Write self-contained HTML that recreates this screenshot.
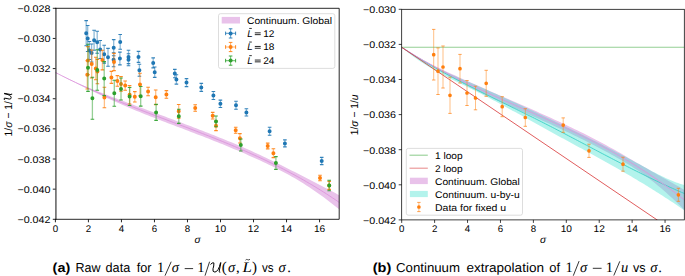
<!DOCTYPE html>
<html><head><meta charset="utf-8"><style>
html,body{margin:0;padding:0;background:#fff;width:685px;height:276px;overflow:hidden}
svg{display:block}
svg{font-family:"Liberation Sans", sans-serif} text{fill:#000;text-rendering:geometricPrecision}
</style></head><body>
<svg width="685" height="276" viewBox="0 0 685 276">
<clipPath id="clipL"><rect x="55.4" y="8.3" width="283.8" height="211.0"/></clipPath>
<clipPath id="clipR"><rect x="401.7" y="9.3" width="282.59999999999997" height="210.6"/></clipPath>
<g clip-path="url(#clipL)">
<path d="M55.40,72.44 L58.29,73.93 L61.17,75.38 L64.06,76.80 L66.94,78.18 L69.83,79.54 L72.71,80.87 L75.60,82.16 L78.48,83.44 L81.37,84.68 L84.25,85.91 L87.14,87.11 L90.02,88.29 L92.91,89.46 L95.79,90.61 L98.68,91.75 L101.56,92.87 L104.45,93.99 L107.33,95.09 L110.22,96.19 L113.10,97.28 L115.99,98.37 L118.87,99.45 L121.76,100.53 L124.64,101.61 L127.53,102.68 L130.41,103.75 L133.30,104.82 L136.18,105.89 L139.07,106.96 L141.95,108.03 L144.84,109.10 L147.72,110.17 L150.61,111.24 L153.49,112.31 L156.38,113.38 L159.26,114.45 L162.15,115.53 L165.03,116.60 L167.92,117.67 L170.80,118.75 L173.69,119.83 L176.57,120.91 L179.46,121.99 L182.34,123.08 L185.23,124.17 L188.11,125.26 L191.00,126.36 L193.88,127.46 L196.77,128.56 L199.65,129.67 L202.54,130.79 L205.42,131.91 L208.31,133.04 L211.19,134.18 L214.08,135.32 L216.96,136.47 L219.85,137.63 L222.73,138.80 L225.62,139.98 L228.50,141.16 L231.39,142.36 L234.28,143.57 L237.16,144.79 L240.05,146.03 L242.93,147.27 L245.82,148.53 L248.70,149.80 L251.59,151.09 L254.47,152.39 L257.36,153.71 L260.24,155.04 L263.13,156.39 L266.01,157.75 L268.90,159.13 L271.78,160.53 L274.67,161.95 L277.55,163.39 L280.44,164.84 L283.32,166.29 L286.21,167.74 L289.09,169.20 L291.98,170.66 L294.86,172.12 L297.75,173.58 L300.63,175.04 L303.52,176.51 L306.40,177.99 L309.29,179.47 L312.17,180.96 L315.06,182.45 L317.94,183.95 L320.83,185.45 L323.71,186.97 L326.60,188.49 L329.48,190.02 L332.37,191.56 L335.25,193.12 L338.14,194.68 L341.02,196.25 L341.02,210.97 L338.14,208.57 L335.25,206.23 L332.37,203.93 L329.48,201.69 L326.60,199.49 L323.71,197.34 L320.83,195.23 L317.94,193.18 L315.06,191.17 L312.17,189.20 L309.29,187.28 L306.40,185.40 L303.52,183.57 L300.63,181.78 L297.75,180.03 L294.86,178.33 L291.98,176.67 L289.09,175.05 L286.21,173.47 L283.32,171.93 L280.44,170.43 L277.55,168.96 L274.67,167.53 L271.78,166.11 L268.90,164.71 L266.01,163.33 L263.13,161.96 L260.24,160.61 L257.36,159.28 L254.47,157.97 L251.59,156.66 L248.70,155.38 L245.82,154.11 L242.93,152.85 L240.05,151.60 L237.16,150.37 L234.28,149.15 L231.39,147.94 L228.50,146.74 L225.62,145.55 L222.73,144.37 L219.85,143.20 L216.96,142.04 L214.08,140.89 L211.19,139.75 L208.31,138.61 L205.42,137.48 L202.54,136.36 L199.65,135.24 L196.77,134.13 L193.88,133.02 L191.00,131.91 L188.11,130.81 L185.23,129.71 L182.34,128.61 L179.46,127.51 L176.57,126.42 L173.69,125.32 L170.80,124.22 L167.92,123.13 L165.03,122.02 L162.15,120.92 L159.26,119.81 L156.38,118.69 L153.49,117.57 L150.61,116.45 L147.72,115.31 L144.84,114.17 L141.95,113.02 L139.07,111.85 L136.18,110.68 L133.30,109.49 L130.41,108.29 L127.53,107.08 L124.64,105.85 L121.76,104.61 L118.87,103.36 L115.99,102.09 L113.10,100.80 L110.22,99.50 L107.33,98.18 L104.45,96.85 L101.56,95.50 L98.68,94.14 L95.79,92.77 L92.91,91.38 L90.02,89.97 L87.14,88.56 L84.25,87.14 L81.37,85.70 L78.48,84.26 L75.60,82.81 L72.71,81.34 L69.83,79.88 L66.94,78.40 L64.06,76.92 L61.17,75.43 L58.29,73.94 L55.40,72.44 Z" fill="#e9c2ea"/>
<path d="M55.40,72.44 L58.29,73.93 L61.17,75.41 L64.06,76.86 L66.94,78.29 L69.83,79.71 L72.71,81.11 L75.60,82.48 L78.48,83.85 L81.37,85.19 L84.25,86.52 L87.14,87.84 L90.02,89.13 L92.91,90.42 L95.79,91.69 L98.68,92.94 L101.56,94.19 L104.45,95.42 L107.33,96.64 L110.22,97.85 L113.10,99.04 L115.99,100.23 L118.87,101.40 L121.76,102.57 L124.64,103.73 L127.53,104.88 L130.41,106.02 L133.30,107.16 L136.18,108.29 L139.07,109.41 L141.95,110.52 L144.84,111.63 L147.72,112.74 L150.61,113.84 L153.49,114.94 L156.38,116.04 L159.26,117.13 L162.15,118.22 L165.03,119.31 L167.92,120.40 L170.80,121.49 L173.69,122.58 L176.57,123.66 L179.46,124.75 L182.34,125.85 L185.23,126.94 L188.11,128.04 L191.00,129.13 L193.88,130.24 L196.77,131.34 L199.65,132.46 L202.54,133.57 L205.42,134.70 L208.31,135.83 L211.19,136.96 L214.08,138.11 L216.96,139.26 L219.85,140.42 L222.73,141.59 L225.62,142.76 L228.50,143.95 L231.39,145.15 L234.28,146.36 L237.16,147.58 L240.05,148.81 L242.93,150.06 L245.82,151.32 L248.70,152.59 L251.59,153.88 L254.47,155.18 L257.36,156.49 L260.24,157.83 L263.13,159.17 L266.01,160.54 L268.90,161.92 L271.78,163.32 L274.67,164.74 L277.55,166.18 L280.44,167.63 L283.32,169.11 L286.21,170.60 L289.09,172.12 L291.98,173.66 L294.86,175.22 L297.75,176.81 L300.63,178.41 L303.52,180.04 L306.40,181.70 L309.29,183.37 L312.17,185.08 L315.06,186.81 L317.94,188.56 L320.83,190.34 L323.71,192.15 L326.60,193.99 L329.48,195.86 L332.37,197.75 L335.25,199.67 L338.14,201.63 L341.02,203.61" fill="none" stroke="#dc95dc" stroke-width="0.9"/>
<path d="M86.20,20.60V45.80M87.70,25.50V51.50M94.10,30.20V50.20M97.20,31.30V53.30M100.20,40.50V58.50M104.20,45.30V63.10M108.00,48.40V66.20M113.70,39.60V55.80M120.20,34.50V49.30M89.40,41.50V59.50M91.60,44.00V62.00M113.60,52.80V66.80M119.90,52.10V64.90M128.50,50.20V63.60M128.50,53.80V65.80M138.50,51.40V62.40M139.40,64.30V76.30M153.20,57.90V67.90M154.70,67.00V77.40M174.80,69.40V77.80M176.40,74.70V84.10M186.50,78.60V86.60M201.30,83.40V91.40M213.40,91.50V99.50M220.40,100.10V107.50M236.00,101.30V109.30M246.40,108.80V116.00M269.60,127.20V135.20M284.90,139.90V146.90M321.70,157.40V164.60" stroke="#1f77b4" stroke-width="1.3" opacity="0.5" fill="none"/><path d="M84.40,20.60H88.00M84.40,45.80H88.00M85.90,25.50H89.50M85.90,51.50H89.50M92.30,30.20H95.90M92.30,50.20H95.90M95.40,31.30H99.00M95.40,53.30H99.00M98.40,40.50H102.00M98.40,58.50H102.00M102.40,45.30H106.00M102.40,63.10H106.00M106.20,48.40H109.80M106.20,66.20H109.80M111.90,39.60H115.50M111.90,55.80H115.50M118.40,34.50H122.00M118.40,49.30H122.00M87.60,41.50H91.20M87.60,59.50H91.20M89.80,44.00H93.40M89.80,62.00H93.40M111.80,52.80H115.40M111.80,66.80H115.40M118.10,52.10H121.70M118.10,64.90H121.70M126.70,50.20H130.30M126.70,63.60H130.30M126.70,53.80H130.30M126.70,65.80H130.30M136.70,51.40H140.30M136.70,62.40H140.30M137.60,64.30H141.20M137.60,76.30H141.20M151.40,57.90H155.00M151.40,67.90H155.00M152.90,67.00H156.50M152.90,77.40H156.50M173.00,69.40H176.60M173.00,77.80H176.60M174.60,74.70H178.20M174.60,84.10H178.20M184.70,78.60H188.30M184.70,86.60H188.30M199.50,83.40H203.10M199.50,91.40H203.10M211.60,91.50H215.20M211.60,99.50H215.20M218.60,100.10H222.20M218.60,107.50H222.20M234.20,101.30H237.80M234.20,109.30H237.80M244.60,108.80H248.20M244.60,116.00H248.20M267.80,127.20H271.40M267.80,135.20H271.40M283.10,139.90H286.70M283.10,146.90H286.70M319.90,157.40H323.50M319.90,164.60H323.50" stroke="#1f77b4" stroke-width="1.1" opacity="0.9" fill="none"/><path d="M86.20,33.20m-2.0,0a2.0,2.0 0 1,0 4.0,0a2.0,2.0 0 1,0 -4.0,0M87.70,38.50m-2.0,0a2.0,2.0 0 1,0 4.0,0a2.0,2.0 0 1,0 -4.0,0M94.10,40.20m-2.0,0a2.0,2.0 0 1,0 4.0,0a2.0,2.0 0 1,0 -4.0,0M97.20,42.30m-2.0,0a2.0,2.0 0 1,0 4.0,0a2.0,2.0 0 1,0 -4.0,0M100.20,49.50m-2.0,0a2.0,2.0 0 1,0 4.0,0a2.0,2.0 0 1,0 -4.0,0M104.20,54.20m-2.0,0a2.0,2.0 0 1,0 4.0,0a2.0,2.0 0 1,0 -4.0,0M108.00,57.30m-2.0,0a2.0,2.0 0 1,0 4.0,0a2.0,2.0 0 1,0 -4.0,0M113.70,47.70m-2.0,0a2.0,2.0 0 1,0 4.0,0a2.0,2.0 0 1,0 -4.0,0M120.20,41.90m-2.0,0a2.0,2.0 0 1,0 4.0,0a2.0,2.0 0 1,0 -4.0,0M89.40,50.50m-2.0,0a2.0,2.0 0 1,0 4.0,0a2.0,2.0 0 1,0 -4.0,0M91.60,53.00m-2.0,0a2.0,2.0 0 1,0 4.0,0a2.0,2.0 0 1,0 -4.0,0M113.60,59.80m-2.0,0a2.0,2.0 0 1,0 4.0,0a2.0,2.0 0 1,0 -4.0,0M119.90,58.50m-2.0,0a2.0,2.0 0 1,0 4.0,0a2.0,2.0 0 1,0 -4.0,0M128.50,56.90m-2.0,0a2.0,2.0 0 1,0 4.0,0a2.0,2.0 0 1,0 -4.0,0M128.50,59.80m-2.0,0a2.0,2.0 0 1,0 4.0,0a2.0,2.0 0 1,0 -4.0,0M138.50,56.90m-2.0,0a2.0,2.0 0 1,0 4.0,0a2.0,2.0 0 1,0 -4.0,0M139.40,70.30m-2.0,0a2.0,2.0 0 1,0 4.0,0a2.0,2.0 0 1,0 -4.0,0M153.20,62.90m-2.0,0a2.0,2.0 0 1,0 4.0,0a2.0,2.0 0 1,0 -4.0,0M154.70,72.20m-2.0,0a2.0,2.0 0 1,0 4.0,0a2.0,2.0 0 1,0 -4.0,0M174.80,73.60m-2.0,0a2.0,2.0 0 1,0 4.0,0a2.0,2.0 0 1,0 -4.0,0M176.40,79.40m-2.0,0a2.0,2.0 0 1,0 4.0,0a2.0,2.0 0 1,0 -4.0,0M186.50,82.60m-2.0,0a2.0,2.0 0 1,0 4.0,0a2.0,2.0 0 1,0 -4.0,0M201.30,87.40m-2.0,0a2.0,2.0 0 1,0 4.0,0a2.0,2.0 0 1,0 -4.0,0M213.40,95.50m-2.0,0a2.0,2.0 0 1,0 4.0,0a2.0,2.0 0 1,0 -4.0,0M220.40,103.80m-2.0,0a2.0,2.0 0 1,0 4.0,0a2.0,2.0 0 1,0 -4.0,0M236.00,105.30m-2.0,0a2.0,2.0 0 1,0 4.0,0a2.0,2.0 0 1,0 -4.0,0M246.40,112.40m-2.0,0a2.0,2.0 0 1,0 4.0,0a2.0,2.0 0 1,0 -4.0,0M269.60,131.20m-2.0,0a2.0,2.0 0 1,0 4.0,0a2.0,2.0 0 1,0 -4.0,0M284.90,143.40m-2.0,0a2.0,2.0 0 1,0 4.0,0a2.0,2.0 0 1,0 -4.0,0M321.70,161.00m-2.0,0a2.0,2.0 0 1,0 4.0,0a2.0,2.0 0 1,0 -4.0,0" fill="#1f77b4" opacity="1.0"/>
<path d="M87.90,46.60V74.60M91.70,50.00V78.00M87.30,60.60V89.00M95.80,57.20V79.80M97.40,59.40V83.80M102.40,50.30V69.90M114.00,53.40V70.60M111.40,71.40V83.40M117.40,75.60V86.20M121.00,76.50V91.30M125.20,81.00V90.20M129.60,85.60V104.00M134.80,91.60V102.00M104.40,87.30V107.70M140.00,73.20V95.80M148.10,87.30V95.70M155.70,90.00V104.60M166.40,90.60V98.20M178.70,104.50V118.10M195.20,104.70V111.30M212.70,112.40V119.00M216.00,121.00V130.60M235.70,127.20V133.20M239.90,133.60V143.00M267.70,143.10V148.90M273.40,148.80V157.60M320.00,175.20V180.80M329.20,181.40V189.40" stroke="#ff7f0e" stroke-width="1.3" opacity="0.5" fill="none"/><path d="M86.10,46.60H89.70M86.10,74.60H89.70M89.90,50.00H93.50M89.90,78.00H93.50M85.50,60.60H89.10M85.50,89.00H89.10M94.00,57.20H97.60M94.00,79.80H97.60M95.60,59.40H99.20M95.60,83.80H99.20M100.60,50.30H104.20M100.60,69.90H104.20M112.20,53.40H115.80M112.20,70.60H115.80M109.60,71.40H113.20M109.60,83.40H113.20M115.60,75.60H119.20M115.60,86.20H119.20M119.20,76.50H122.80M119.20,91.30H122.80M123.40,81.00H127.00M123.40,90.20H127.00M127.80,85.60H131.40M127.80,104.00H131.40M133.00,91.60H136.60M133.00,102.00H136.60M102.60,87.30H106.20M102.60,107.70H106.20M138.20,73.20H141.80M138.20,95.80H141.80M146.30,87.30H149.90M146.30,95.70H149.90M153.90,90.00H157.50M153.90,104.60H157.50M164.60,90.60H168.20M164.60,98.20H168.20M176.90,104.50H180.50M176.90,118.10H180.50M193.40,104.70H197.00M193.40,111.30H197.00M210.90,112.40H214.50M210.90,119.00H214.50M214.20,121.00H217.80M214.20,130.60H217.80M233.90,127.20H237.50M233.90,133.20H237.50M238.10,133.60H241.70M238.10,143.00H241.70M265.90,143.10H269.50M265.90,148.90H269.50M271.60,148.80H275.20M271.60,157.60H275.20M318.20,175.20H321.80M318.20,180.80H321.80M327.40,181.40H331.00M327.40,189.40H331.00" stroke="#ff7f0e" stroke-width="1.1" opacity="0.9" fill="none"/><path d="M87.90,60.60m-2.0,0a2.0,2.0 0 1,0 4.0,0a2.0,2.0 0 1,0 -4.0,0M91.70,64.00m-2.0,0a2.0,2.0 0 1,0 4.0,0a2.0,2.0 0 1,0 -4.0,0M87.30,74.80m-2.0,0a2.0,2.0 0 1,0 4.0,0a2.0,2.0 0 1,0 -4.0,0M95.80,68.50m-2.0,0a2.0,2.0 0 1,0 4.0,0a2.0,2.0 0 1,0 -4.0,0M97.40,71.60m-2.0,0a2.0,2.0 0 1,0 4.0,0a2.0,2.0 0 1,0 -4.0,0M102.40,60.10m-2.0,0a2.0,2.0 0 1,0 4.0,0a2.0,2.0 0 1,0 -4.0,0M114.00,62.00m-2.0,0a2.0,2.0 0 1,0 4.0,0a2.0,2.0 0 1,0 -4.0,0M111.40,77.40m-2.0,0a2.0,2.0 0 1,0 4.0,0a2.0,2.0 0 1,0 -4.0,0M117.40,80.90m-2.0,0a2.0,2.0 0 1,0 4.0,0a2.0,2.0 0 1,0 -4.0,0M121.00,83.90m-2.0,0a2.0,2.0 0 1,0 4.0,0a2.0,2.0 0 1,0 -4.0,0M125.20,85.60m-2.0,0a2.0,2.0 0 1,0 4.0,0a2.0,2.0 0 1,0 -4.0,0M129.60,94.80m-2.0,0a2.0,2.0 0 1,0 4.0,0a2.0,2.0 0 1,0 -4.0,0M134.80,96.80m-2.0,0a2.0,2.0 0 1,0 4.0,0a2.0,2.0 0 1,0 -4.0,0M104.40,97.50m-2.0,0a2.0,2.0 0 1,0 4.0,0a2.0,2.0 0 1,0 -4.0,0M140.00,84.50m-2.0,0a2.0,2.0 0 1,0 4.0,0a2.0,2.0 0 1,0 -4.0,0M148.10,91.50m-2.0,0a2.0,2.0 0 1,0 4.0,0a2.0,2.0 0 1,0 -4.0,0M155.70,97.30m-2.0,0a2.0,2.0 0 1,0 4.0,0a2.0,2.0 0 1,0 -4.0,0M166.40,94.40m-2.0,0a2.0,2.0 0 1,0 4.0,0a2.0,2.0 0 1,0 -4.0,0M178.70,111.30m-2.0,0a2.0,2.0 0 1,0 4.0,0a2.0,2.0 0 1,0 -4.0,0M195.20,108.00m-2.0,0a2.0,2.0 0 1,0 4.0,0a2.0,2.0 0 1,0 -4.0,0M212.70,115.70m-2.0,0a2.0,2.0 0 1,0 4.0,0a2.0,2.0 0 1,0 -4.0,0M216.00,125.80m-2.0,0a2.0,2.0 0 1,0 4.0,0a2.0,2.0 0 1,0 -4.0,0M235.70,130.20m-2.0,0a2.0,2.0 0 1,0 4.0,0a2.0,2.0 0 1,0 -4.0,0M239.90,138.30m-2.0,0a2.0,2.0 0 1,0 4.0,0a2.0,2.0 0 1,0 -4.0,0M267.70,146.00m-2.0,0a2.0,2.0 0 1,0 4.0,0a2.0,2.0 0 1,0 -4.0,0M273.40,153.20m-2.0,0a2.0,2.0 0 1,0 4.0,0a2.0,2.0 0 1,0 -4.0,0M320.00,178.00m-2.0,0a2.0,2.0 0 1,0 4.0,0a2.0,2.0 0 1,0 -4.0,0M329.20,185.40m-2.0,0a2.0,2.0 0 1,0 4.0,0a2.0,2.0 0 1,0 -4.0,0" fill="#ff7f0e" opacity="1.0"/>
<path d="M88.00,44.20V91.40M97.30,49.70V90.30M104.20,61.60V95.60M92.40,77.30V119.30M114.30,80.20V106.20M121.00,78.00V100.00M129.60,87.50V105.50M140.70,86.50V106.10M156.10,104.40V120.40M178.80,109.20V123.40M216.00,116.00V126.80M240.80,139.00V151.00M275.90,156.60V169.40M329.20,180.20V190.80" stroke="#2ca02c" stroke-width="1.3" opacity="0.5" fill="none"/><path d="M86.20,44.20H89.80M86.20,91.40H89.80M95.50,49.70H99.10M95.50,90.30H99.10M102.40,61.60H106.00M102.40,95.60H106.00M90.60,77.30H94.20M90.60,119.30H94.20M112.50,80.20H116.10M112.50,106.20H116.10M119.20,78.00H122.80M119.20,100.00H122.80M127.80,87.50H131.40M127.80,105.50H131.40M138.90,86.50H142.50M138.90,106.10H142.50M154.30,104.40H157.90M154.30,120.40H157.90M177.00,109.20H180.60M177.00,123.40H180.60M214.20,116.00H217.80M214.20,126.80H217.80M239.00,139.00H242.60M239.00,151.00H242.60M274.10,156.60H277.70M274.10,169.40H277.70M327.40,180.20H331.00M327.40,190.80H331.00" stroke="#2ca02c" stroke-width="1.1" opacity="0.9" fill="none"/><path d="M88.00,67.80m-2.0,0a2.0,2.0 0 1,0 4.0,0a2.0,2.0 0 1,0 -4.0,0M97.30,70.00m-2.0,0a2.0,2.0 0 1,0 4.0,0a2.0,2.0 0 1,0 -4.0,0M104.20,78.60m-2.0,0a2.0,2.0 0 1,0 4.0,0a2.0,2.0 0 1,0 -4.0,0M92.40,98.30m-2.0,0a2.0,2.0 0 1,0 4.0,0a2.0,2.0 0 1,0 -4.0,0M114.30,93.20m-2.0,0a2.0,2.0 0 1,0 4.0,0a2.0,2.0 0 1,0 -4.0,0M121.00,89.00m-2.0,0a2.0,2.0 0 1,0 4.0,0a2.0,2.0 0 1,0 -4.0,0M129.60,96.50m-2.0,0a2.0,2.0 0 1,0 4.0,0a2.0,2.0 0 1,0 -4.0,0M140.70,96.30m-2.0,0a2.0,2.0 0 1,0 4.0,0a2.0,2.0 0 1,0 -4.0,0M156.10,112.40m-2.0,0a2.0,2.0 0 1,0 4.0,0a2.0,2.0 0 1,0 -4.0,0M178.80,116.30m-2.0,0a2.0,2.0 0 1,0 4.0,0a2.0,2.0 0 1,0 -4.0,0M216.00,121.40m-2.0,0a2.0,2.0 0 1,0 4.0,0a2.0,2.0 0 1,0 -4.0,0M240.80,145.00m-2.0,0a2.0,2.0 0 1,0 4.0,0a2.0,2.0 0 1,0 -4.0,0M275.90,163.00m-2.0,0a2.0,2.0 0 1,0 4.0,0a2.0,2.0 0 1,0 -4.0,0M329.20,185.50m-2.0,0a2.0,2.0 0 1,0 4.0,0a2.0,2.0 0 1,0 -4.0,0" fill="#2ca02c" opacity="1.0"/>
</g>
<path d="M55.0,8.3H339.2V219.3H55.0" fill="none" stroke="#000" stroke-width="0.85"/>
<path d="M55.95,7.9V219.70000000000002" fill="none" stroke="#000" stroke-width="0.95"/>
<line x1="52.8" y1="8.30" x2="55.5" y2="8.30" stroke="#000" stroke-width="0.85"/>
<text x="50.40" y="11.85" font-size="9.7" text-anchor="end" textLength="33.0" lengthAdjust="spacingAndGlyphs">−0.028</text>
<line x1="52.8" y1="38.44" x2="55.5" y2="38.44" stroke="#000" stroke-width="0.85"/>
<text x="50.40" y="41.99" font-size="9.7" text-anchor="end" textLength="33.0" lengthAdjust="spacingAndGlyphs">−0.030</text>
<line x1="52.8" y1="68.59" x2="55.5" y2="68.59" stroke="#000" stroke-width="0.85"/>
<text x="50.40" y="72.14" font-size="9.7" text-anchor="end" textLength="33.0" lengthAdjust="spacingAndGlyphs">−0.032</text>
<line x1="52.8" y1="98.73" x2="55.5" y2="98.73" stroke="#000" stroke-width="0.85"/>
<text x="50.40" y="102.28" font-size="9.7" text-anchor="end" textLength="33.0" lengthAdjust="spacingAndGlyphs">−0.034</text>
<line x1="52.8" y1="128.87" x2="55.5" y2="128.87" stroke="#000" stroke-width="0.85"/>
<text x="50.40" y="132.42" font-size="9.7" text-anchor="end" textLength="33.0" lengthAdjust="spacingAndGlyphs">−0.036</text>
<line x1="52.8" y1="159.01" x2="55.5" y2="159.01" stroke="#000" stroke-width="0.85"/>
<text x="50.40" y="162.56" font-size="9.7" text-anchor="end" textLength="33.0" lengthAdjust="spacingAndGlyphs">−0.038</text>
<line x1="52.8" y1="189.16" x2="55.5" y2="189.16" stroke="#000" stroke-width="0.85"/>
<text x="50.40" y="192.71" font-size="9.7" text-anchor="end" textLength="33.0" lengthAdjust="spacingAndGlyphs">−0.040</text>
<line x1="52.8" y1="219.30" x2="55.5" y2="219.30" stroke="#000" stroke-width="0.85"/>
<text x="50.40" y="222.85" font-size="9.7" text-anchor="end" textLength="33.0" lengthAdjust="spacingAndGlyphs">−0.042</text>
<line x1="55.40" y1="219.3" x2="55.40" y2="222.3" stroke="#000" stroke-width="0.85"/>
<text x="55.40" y="232.00" font-size="9.7" text-anchor="middle">0</text>
<line x1="88.42" y1="219.3" x2="88.42" y2="222.3" stroke="#000" stroke-width="0.85"/>
<text x="88.42" y="232.00" font-size="9.7" text-anchor="middle">2</text>
<line x1="121.44" y1="219.3" x2="121.44" y2="222.3" stroke="#000" stroke-width="0.85"/>
<text x="121.44" y="232.00" font-size="9.7" text-anchor="middle">4</text>
<line x1="154.46" y1="219.3" x2="154.46" y2="222.3" stroke="#000" stroke-width="0.85"/>
<text x="154.46" y="232.00" font-size="9.7" text-anchor="middle">6</text>
<line x1="187.48" y1="219.3" x2="187.48" y2="222.3" stroke="#000" stroke-width="0.85"/>
<text x="187.48" y="232.00" font-size="9.7" text-anchor="middle">8</text>
<line x1="220.50" y1="219.3" x2="220.50" y2="222.3" stroke="#000" stroke-width="0.85"/>
<text x="220.50" y="232.00" font-size="9.7" text-anchor="middle" textLength="11.3" lengthAdjust="spacingAndGlyphs">10</text>
<line x1="253.52" y1="219.3" x2="253.52" y2="222.3" stroke="#000" stroke-width="0.85"/>
<text x="253.52" y="232.00" font-size="9.7" text-anchor="middle" textLength="11.3" lengthAdjust="spacingAndGlyphs">12</text>
<line x1="286.54" y1="219.3" x2="286.54" y2="222.3" stroke="#000" stroke-width="0.85"/>
<text x="286.54" y="232.00" font-size="9.7" text-anchor="middle" textLength="11.3" lengthAdjust="spacingAndGlyphs">14</text>
<line x1="319.56" y1="219.3" x2="319.56" y2="222.3" stroke="#000" stroke-width="0.85"/>
<text x="319.56" y="232.00" font-size="9.7" text-anchor="middle" textLength="11.3" lengthAdjust="spacingAndGlyphs">16</text>
<text x="197.60" y="242.70" font-size="10.2" text-anchor="middle" font-style="italic">σ</text>
<g transform="translate(11.7,136.4) rotate(-90) scale(1.04)"><text x="0" y="0" font-size="10.3" textLength="34" lengthAdjust="spacingAndGlyphs">1/<tspan font-style="italic">σ</tspan> − 1/</text><path d="M34.9,-6.6 q0.9,-1.2 1.9,-0.4 q-0.3,2.8 -0.9,4.6 q-0.4,1.9 1.6,1.9 q2.6,-0.4 3.6,-6.8 M41.4,-7.2 l-1.2,6.6 q-0.1,1.0 0.9,0.6" fill="none" stroke="#000" stroke-width="0.95"/></g>
<rect x="218.5" y="13.7" width="116.3" height="54.7" rx="2" fill="#fff" fill-opacity="0.8" stroke="#d4d4d4" stroke-width="0.8"/>
<rect x="221.7" y="16.9" width="18.3" height="6.6" fill="#e9c2ea"/>
<text x="247.00" y="23.50" font-size="9.7" textLength="85.0" lengthAdjust="spacingAndGlyphs">Continuum. Global</text>
<path d="M225.6,33.4H235.6M230.6,28.799999999999997V38.0" stroke="#1f77b4" stroke-width="1.1" opacity="0.6"/>
<path d="M225.6,31.599999999999998V35.199999999999996M235.6,31.599999999999998V35.199999999999996M228.79999999999998,28.799999999999997H232.4M228.79999999999998,38.0H232.4" stroke="#1f77b4" stroke-width="1" opacity="0.9"/>
<circle cx="230.6" cy="33.4" r="2" fill="#1f77b4"/>
<text x="247.20" y="36.85" font-size="9.7" font-style="italic">L</text>
<path d="M254.8,32.85H260.7M254.8,34.65H260.7" stroke="#000" stroke-width="0.85"/>
<text x="263.20" y="36.85" font-size="9.7" textLength="11.2" lengthAdjust="spacingAndGlyphs">12</text>
<path d="M249.2,28.45h2.6" stroke="#000" stroke-width="0.8"/>
<path d="M225.6,47.0H235.6M230.6,42.4V51.6" stroke="#ff7f0e" stroke-width="1.1" opacity="0.6"/>
<path d="M225.6,45.2V48.8M235.6,45.2V48.8M228.79999999999998,42.4H232.4M228.79999999999998,51.6H232.4" stroke="#ff7f0e" stroke-width="1" opacity="0.9"/>
<circle cx="230.6" cy="47.0" r="2" fill="#ff7f0e"/>
<text x="247.20" y="50.45" font-size="9.7" font-style="italic">L</text>
<path d="M254.8,46.45H260.7M254.8,48.25H260.7" stroke="#000" stroke-width="0.85"/>
<text x="263.20" y="50.45" font-size="9.7" textLength="11.2" lengthAdjust="spacingAndGlyphs">18</text>
<path d="M249.2,42.05h2.6" stroke="#000" stroke-width="0.8"/>
<path d="M225.6,60.599999999999994H235.6M230.6,55.99999999999999V65.19999999999999" stroke="#2ca02c" stroke-width="1.1" opacity="0.6"/>
<path d="M225.6,58.8V62.39999999999999M235.6,58.8V62.39999999999999M228.79999999999998,55.99999999999999H232.4M228.79999999999998,65.19999999999999H232.4" stroke="#2ca02c" stroke-width="1" opacity="0.9"/>
<circle cx="230.6" cy="60.599999999999994" r="2" fill="#2ca02c"/>
<text x="247.20" y="64.05" font-size="9.7" font-style="italic">L</text>
<path d="M254.8,60.05H260.7M254.8,61.85H260.7" stroke="#000" stroke-width="0.85"/>
<text x="263.20" y="64.05" font-size="9.7" textLength="11.2" lengthAdjust="spacingAndGlyphs">24</text>
<path d="M249.2,55.65h2.6" stroke="#000" stroke-width="0.8"/>
<g clip-path="url(#clipR)">
<path d="M401.70,47.23 L404.58,49.07 L407.45,50.86 L410.33,52.61 L413.21,54.32 L416.08,55.98 L418.96,57.61 L421.83,59.19 L424.71,60.74 L427.59,62.26 L430.46,63.74 L433.34,65.20 L436.22,66.63 L439.09,68.04 L441.97,69.42 L444.85,70.79 L447.72,72.14 L450.60,73.47 L453.47,74.79 L456.35,76.10 L459.23,77.41 L462.10,78.70 L464.98,79.98 L467.86,81.26 L470.73,82.54 L473.61,83.81 L476.48,85.08 L479.36,86.34 L482.24,87.61 L485.11,88.87 L487.99,90.13 L490.87,91.39 L493.74,92.65 L496.62,93.90 L499.50,95.16 L502.37,96.42 L505.25,97.68 L508.12,98.93 L511.00,100.19 L513.88,101.45 L516.75,102.71 L519.63,103.98 L522.51,105.24 L525.38,106.51 L528.26,107.78 L531.14,109.05 L534.01,110.33 L536.89,111.61 L539.76,112.90 L542.64,114.19 L545.52,115.48 L548.39,116.79 L551.27,118.10 L554.15,119.41 L557.02,120.74 L559.90,122.07 L562.78,123.41 L565.65,124.77 L568.53,126.13 L571.40,127.50 L574.28,128.89 L577.16,130.29 L580.03,131.70 L582.91,133.12 L585.79,134.56 L588.66,136.01 L591.54,137.47 L594.42,138.96 L597.29,140.46 L600.17,141.97 L603.04,143.51 L605.92,145.06 L608.80,146.63 L611.67,148.22 L614.55,149.83 L617.43,151.46 L620.30,153.11 L623.18,154.78 L626.05,156.47 L628.93,158.15 L631.81,159.83 L634.68,161.49 L637.56,163.15 L640.44,164.81 L643.31,166.46 L646.19,168.10 L649.07,169.75 L651.94,171.39 L654.82,173.02 L657.69,174.66 L660.57,176.29 L663.45,177.92 L666.32,179.55 L669.20,181.19 L672.08,182.82 L674.95,184.46 L677.83,186.09 L680.71,187.74 L683.58,189.38 L686.46,191.03 L686.46,212.22 L683.58,209.25 L680.71,206.35 L677.83,203.51 L674.95,200.74 L672.08,198.03 L669.20,195.39 L666.32,192.81 L663.45,190.29 L660.57,187.83 L657.69,185.44 L654.82,183.10 L651.94,180.83 L649.07,178.62 L646.19,176.46 L643.31,174.37 L640.44,172.33 L637.56,170.35 L634.68,168.42 L631.81,166.55 L628.93,164.74 L626.05,162.98 L623.18,161.28 L620.30,159.60 L617.43,157.95 L614.55,156.32 L611.67,154.71 L608.80,153.12 L605.92,151.55 L603.04,150.00 L600.17,148.47 L597.29,146.95 L594.42,145.45 L591.54,143.97 L588.66,142.50 L585.79,141.05 L582.91,139.61 L580.03,138.19 L577.16,136.78 L574.28,135.38 L571.40,134.00 L568.53,132.62 L565.65,131.26 L562.78,129.91 L559.90,128.56 L557.02,127.23 L554.15,125.90 L551.27,124.58 L548.39,123.27 L545.52,121.96 L542.64,120.66 L539.76,119.37 L536.89,118.08 L534.01,116.79 L531.14,115.50 L528.26,114.22 L525.38,112.94 L522.51,111.66 L519.63,110.37 L516.75,109.09 L513.88,107.80 L511.00,106.51 L508.12,105.21 L505.25,103.91 L502.37,102.61 L499.50,101.29 L496.62,99.97 L493.74,98.63 L490.87,97.29 L487.99,95.93 L485.11,94.56 L482.24,93.18 L479.36,91.78 L476.48,90.37 L473.61,88.94 L470.73,87.49 L467.86,86.02 L464.98,84.53 L462.10,83.03 L459.23,81.50 L456.35,79.96 L453.47,78.39 L450.60,76.81 L447.72,75.20 L444.85,73.58 L441.97,71.93 L439.09,70.27 L436.22,68.59 L433.34,66.89 L430.46,65.18 L427.59,63.44 L424.71,61.70 L421.83,59.94 L418.96,58.16 L416.08,56.38 L413.21,54.57 L410.33,52.76 L407.45,50.93 L404.58,49.08 L401.70,47.23 Z" fill="#e9c2ea"/>
<path d="M401.70,47.30 L403.49,48.56 L405.29,49.79 L407.08,50.99 L408.88,52.17 L410.67,53.32 L412.47,54.45 L414.26,55.55 L416.05,56.63 L417.85,57.69 L419.64,58.73 L421.44,59.75 L423.23,60.75 L425.03,61.73 L426.82,62.69 L428.62,63.64 L430.41,64.57 L432.20,65.48 L434.00,66.38 L435.79,67.27 L437.59,68.14 L439.38,69.00 L441.18,69.85 L442.97,70.69 L444.76,71.51 L446.56,72.33 L448.35,73.14 L450.15,73.95 L451.94,74.74 L453.74,75.53 L455.53,76.32 L457.32,77.10 L459.12,77.88 L460.91,78.65 L462.71,79.43 L464.50,80.20 L466.30,80.97 L468.09,81.74 L469.88,82.52 L471.68,83.29 L473.47,84.07 L475.27,84.85 L477.06,85.63 L478.86,86.42 L480.65,87.20 L482.45,87.99 L484.24,88.78 L486.03,89.57 L487.83,90.37 L489.62,91.17 L491.42,91.96 L493.21,92.76 L495.01,93.57 L496.80,94.37 L498.59,95.18 L500.39,95.99 L502.18,96.80 L503.98,97.61 L505.77,98.42 L507.57,99.24 L509.36,100.06 L511.15,100.88 L512.95,101.70 L514.74,102.52 L516.54,103.35 L518.33,104.17 L520.13,105.00 L521.92,105.83 L523.72,106.66 L525.51,107.50 L527.30,108.34 L529.10,109.17 L530.89,110.01 L532.69,110.85 L534.48,111.70 L536.28,112.54 L538.07,113.39 L539.86,114.24 L541.66,115.08 L543.45,115.94 L545.25,116.79 L547.04,117.64 L548.84,118.50 L550.63,119.36 L552.42,120.22 L554.22,121.08 L556.01,121.94 L557.81,122.80 L559.60,123.67 L561.40,124.54 L563.19,125.40 L564.98,126.27 L566.78,127.15 L568.57,128.02 L570.37,128.89 L572.16,129.77 L573.96,130.65 L575.75,131.53 L577.55,132.41 L579.34,133.30 L581.13,134.18 L582.93,135.07 L584.72,135.96 L586.52,136.86 L588.31,137.75 L590.11,138.65 L591.90,139.55 L593.69,140.45 L595.49,141.35 L597.28,142.26 L599.08,143.17 L600.87,144.08 L602.67,144.99 L604.46,145.91 L606.25,146.82 L608.05,147.75 L609.84,148.67 L611.64,149.60 L613.43,150.53 L615.23,151.46 L617.02,152.39 L618.82,153.33 L620.61,154.27 L622.40,155.21 L624.20,156.16 L625.99,157.11 L627.79,158.06 L629.58,159.02 L631.38,159.98 L633.17,160.94 L634.96,161.91 L636.76,162.88 L638.55,163.85 L640.35,164.82 L642.14,165.80 L643.94,166.78 L645.73,167.76 L647.52,168.74 L649.32,169.71 L651.11,170.68 L652.91,171.63 L654.70,172.58 L656.50,173.51 L658.29,174.43 L660.08,175.33 L661.88,176.22 L663.67,177.08 L665.47,177.93 L667.26,178.75 L669.06,179.54 L670.85,180.30 L672.65,181.04 L674.44,181.74 L676.23,182.41 L678.03,183.05 L679.82,183.64 L681.62,184.20 L683.41,184.72 L685.21,185.19 L687.00,185.62 L687.00,212.17 L685.21,210.91 L683.41,209.66 L681.62,208.43 L679.82,207.20 L678.03,205.98 L676.23,204.76 L674.44,203.56 L672.65,202.36 L670.85,201.17 L669.06,199.98 L667.26,198.81 L665.47,197.64 L663.67,196.48 L661.88,195.32 L660.08,194.17 L658.29,193.03 L656.50,191.90 L654.70,190.77 L652.91,189.65 L651.11,188.53 L649.32,187.42 L647.52,186.32 L645.73,185.22 L643.94,184.12 L642.14,183.04 L640.35,181.95 L638.55,180.88 L636.76,179.80 L634.96,178.74 L633.17,177.67 L631.38,176.62 L629.58,175.56 L627.79,174.51 L625.99,173.47 L624.20,172.43 L622.40,171.39 L620.61,170.36 L618.82,169.33 L617.02,168.31 L615.23,167.29 L613.43,166.27 L611.64,165.25 L609.84,164.24 L608.05,163.23 L606.25,162.23 L604.46,161.22 L602.67,160.22 L600.87,159.22 L599.08,158.23 L597.28,157.24 L595.49,156.24 L593.69,155.25 L591.90,154.27 L590.11,153.28 L588.31,152.30 L586.52,151.31 L584.72,150.33 L582.93,149.35 L581.13,148.37 L579.34,147.39 L577.55,146.42 L575.75,145.44 L573.96,144.46 L572.16,143.49 L570.37,142.51 L568.57,141.54 L566.78,140.56 L564.98,139.58 L563.19,138.61 L561.40,137.63 L559.60,136.65 L557.81,135.68 L556.01,134.70 L554.22,133.72 L552.42,132.74 L550.63,131.76 L548.84,130.78 L547.04,129.79 L545.25,128.81 L543.45,127.82 L541.66,126.83 L539.86,125.84 L538.07,124.85 L536.28,123.85 L534.48,122.86 L532.69,121.86 L530.89,120.86 L529.10,119.86 L527.30,118.86 L525.51,117.86 L523.72,116.86 L521.92,115.86 L520.13,114.86 L518.33,113.87 L516.54,112.87 L514.74,111.87 L512.95,110.88 L511.15,109.89 L509.36,108.90 L507.57,107.91 L505.77,106.93 L503.98,105.95 L502.18,104.97 L500.39,103.99 L498.59,103.02 L496.80,102.06 L495.01,101.09 L493.21,100.13 L491.42,99.18 L489.62,98.23 L487.83,97.29 L486.03,96.35 L484.24,95.42 L482.45,94.50 L480.65,93.58 L478.86,92.67 L477.06,91.76 L475.27,90.86 L473.47,89.97 L471.68,89.09 L469.88,88.21 L468.09,87.33 L466.30,86.45 L464.50,85.58 L462.71,84.71 L460.91,83.83 L459.12,82.96 L457.32,82.08 L455.53,81.20 L453.74,80.31 L451.94,79.41 L450.15,78.51 L448.35,77.60 L446.56,76.68 L444.76,75.75 L442.97,74.81 L441.18,73.85 L439.38,72.88 L437.59,71.90 L435.79,70.90 L434.00,69.88 L432.20,68.84 L430.41,67.78 L428.62,66.71 L426.82,65.61 L425.03,64.48 L423.23,63.34 L421.44,62.17 L419.64,60.97 L417.85,59.74 L416.05,58.49 L414.26,57.21 L412.47,55.89 L410.67,54.55 L408.88,53.17 L407.08,51.76 L405.29,50.31 L403.49,48.82 L401.70,47.30 Z" fill="#40e0d0" fill-opacity="0.4"/>
<path d="M401.70,47.30 L403.49,48.48 L405.29,49.65 L407.08,50.80 L408.88,51.95 L410.67,53.09 L412.47,54.22 L414.26,55.34 L416.05,56.45 L417.85,57.55 L419.64,58.64 L421.44,59.72 L423.23,60.80 L425.03,61.86 L426.82,62.92 L428.62,63.97 L430.41,65.01 L432.20,66.05 L434.00,67.08 L435.79,68.10 L437.59,69.11 L439.38,70.12 L441.18,71.12 L442.97,72.11 L444.76,73.10 L446.56,74.08 L448.35,75.05 L450.15,76.02 L451.94,76.99 L453.74,77.94 L455.53,78.90 L457.32,79.84 L459.12,80.79 L460.91,81.72 L462.71,82.66 L464.50,83.59 L466.30,84.51 L468.09,85.43 L469.88,86.35 L471.68,87.26 L473.47,88.17 L475.27,89.08 L477.06,89.98 L478.86,90.88 L480.65,91.78 L482.45,92.67 L484.24,93.57 L486.03,94.46 L487.83,95.34 L489.62,96.23 L491.42,97.12 L493.21,98.00 L495.01,98.88 L496.80,99.76 L498.59,100.64 L500.39,101.52 L502.18,102.39 L503.98,103.27 L505.77,104.15 L507.57,105.03 L509.36,105.90 L511.15,106.78 L512.95,107.66 L514.74,108.53 L516.54,109.41 L518.33,110.29 L520.13,111.17 L521.92,112.05 L523.72,112.94 L525.51,113.82 L527.30,114.71 L529.10,115.60 L530.89,116.49 L532.69,117.38 L534.48,118.28 L536.28,119.18 L538.07,120.08 L539.86,120.98 L541.66,121.89 L543.45,122.80 L545.25,123.71 L547.04,124.63 L548.84,125.55 L550.63,126.47 L552.42,127.39 L554.22,128.32 L556.01,129.25 L557.81,130.18 L559.60,131.11 L561.40,132.05 L563.19,132.98 L564.98,133.92 L566.78,134.86 L568.57,135.80 L570.37,136.74 L572.16,137.69 L573.96,138.63 L575.75,139.58 L577.55,140.52 L579.34,141.47 L581.13,142.42 L582.93,143.36 L584.72,144.31 L586.52,145.26 L588.31,146.21 L590.11,147.15 L591.90,148.10 L593.69,149.05 L595.49,149.99 L597.28,150.94 L599.08,151.88 L600.87,152.83 L602.67,153.77 L604.46,154.71 L606.25,155.65 L608.05,156.59 L609.84,157.53 L611.64,158.47 L613.43,159.40 L615.23,160.33 L617.02,161.26 L618.82,162.19 L620.61,163.12 L622.40,164.04 L624.20,164.96 L625.99,165.88 L627.79,166.80 L629.58,167.71 L631.38,168.62 L633.17,169.53 L634.96,170.43 L636.76,171.33 L638.55,172.23 L640.35,173.12 L642.14,174.01 L643.94,174.89 L645.73,175.78 L647.52,176.65 L649.32,177.52 L651.11,178.39 L652.91,179.26 L654.70,180.12 L656.50,180.97 L658.29,181.82 L660.08,182.67 L661.88,183.50 L663.67,184.34 L665.47,185.17 L667.26,185.99 L669.06,186.81 L670.85,187.62 L672.65,188.43 L674.44,189.23 L676.23,190.02 L678.03,190.81 L679.82,191.59 L681.62,192.36 L683.41,193.13 L685.21,193.89 L687.00,194.65" fill="none" stroke="#3cd0c6" stroke-width="0.9"/>
<path d="M401.70,47.23 L404.58,49.08 L407.45,50.90 L410.33,52.69 L413.21,54.45 L416.08,56.18 L418.96,57.89 L421.83,59.57 L424.71,61.22 L427.59,62.85 L430.46,64.46 L433.34,66.04 L436.22,67.61 L439.09,69.15 L441.97,70.68 L444.85,72.18 L447.72,73.67 L450.60,75.14 L453.47,76.59 L456.35,78.03 L459.23,79.45 L462.10,80.86 L464.98,82.26 L467.86,83.64 L470.73,85.01 L473.61,86.37 L476.48,87.72 L479.36,89.06 L482.24,90.39 L485.11,91.72 L487.99,93.03 L490.87,94.34 L493.74,95.64 L496.62,96.93 L499.50,98.23 L502.37,99.51 L505.25,100.79 L508.12,102.07 L511.00,103.35 L513.88,104.63 L516.75,105.90 L519.63,107.17 L522.51,108.45 L525.38,109.72 L528.26,111.00 L531.14,112.28 L534.01,113.56 L536.89,114.84 L539.76,116.13 L542.64,117.43 L545.52,118.72 L548.39,120.03 L551.27,121.34 L554.15,122.66 L557.02,123.98 L559.90,125.32 L562.78,126.66 L565.65,128.01 L568.53,129.38 L571.40,130.75 L574.28,132.13 L577.16,133.53 L580.03,134.94 L582.91,136.37 L585.79,137.80 L588.66,139.25 L591.54,140.72 L594.42,142.20 L597.29,143.70 L600.17,145.22 L603.04,146.75 L605.92,148.30 L608.80,149.87 L611.67,151.46 L614.55,153.07 L617.43,154.71 L620.30,156.36 L623.18,158.03 L626.05,159.73 L628.93,161.45 L631.81,163.19 L634.68,164.96 L637.56,166.75 L640.44,168.57 L643.31,170.41 L646.19,172.28 L649.07,174.18 L651.94,176.11 L654.82,178.06 L657.69,180.05 L660.57,182.06 L663.45,184.10 L666.32,186.18 L669.20,188.29 L672.08,190.43 L674.95,192.60 L677.83,194.80 L680.71,197.04 L683.58,199.32 L686.46,201.63" fill="none" stroke="#dc95dc" stroke-width="0.9"/>
<line x1="401.7" y1="47.3" x2="684.3" y2="47.3" stroke="#2ca02c" stroke-width="1.1" opacity="0.5"/>
<line x1="401.7" y1="47.3" x2="657.7" y2="220.3" stroke="#d62728" stroke-width="1" opacity="0.75"/>
<path d="M433.70,29.40V80.00M438.00,47.90V94.50M443.00,46.00V88.00M450.00,77.20V113.40M460.00,54.40V83.00M467.00,80.50V105.50M475.50,86.20V109.80M486.20,70.30V96.30M502.20,96.70V116.70M525.30,108.70V126.30M563.20,117.90V132.30M589.00,144.20V157.40M623.00,157.20V171.20M678.40,188.30V201.30" stroke="#ff7f0e" stroke-width="1.0" opacity="0.5" fill="none"/><path d="M432.00,29.40H435.40M432.00,80.00H435.40M436.30,47.90H439.70M436.30,94.50H439.70M441.30,46.00H444.70M441.30,88.00H444.70M448.30,77.20H451.70M448.30,113.40H451.70M458.30,54.40H461.70M458.30,83.00H461.70M465.30,80.50H468.70M465.30,105.50H468.70M473.80,86.20H477.20M473.80,109.80H477.20M484.50,70.30H487.90M484.50,96.30H487.90M500.50,96.70H503.90M500.50,116.70H503.90M523.60,108.70H527.00M523.60,126.30H527.00M561.50,117.90H564.90M561.50,132.30H564.90M587.30,144.20H590.70M587.30,157.40H590.70M621.30,157.20H624.70M621.30,171.20H624.70M676.70,188.30H680.10M676.70,201.30H680.10" stroke="#ff7f0e" stroke-width="1.0" opacity="0.7" fill="none"/><path d="M433.70,54.70m-1.85,0a1.85,1.85 0 1,0 3.7,0a1.85,1.85 0 1,0 -3.7,0M438.00,71.20m-1.85,0a1.85,1.85 0 1,0 3.7,0a1.85,1.85 0 1,0 -3.7,0M443.00,67.00m-1.85,0a1.85,1.85 0 1,0 3.7,0a1.85,1.85 0 1,0 -3.7,0M450.00,95.30m-1.85,0a1.85,1.85 0 1,0 3.7,0a1.85,1.85 0 1,0 -3.7,0M460.00,68.70m-1.85,0a1.85,1.85 0 1,0 3.7,0a1.85,1.85 0 1,0 -3.7,0M467.00,93.00m-1.85,0a1.85,1.85 0 1,0 3.7,0a1.85,1.85 0 1,0 -3.7,0M475.50,98.00m-1.85,0a1.85,1.85 0 1,0 3.7,0a1.85,1.85 0 1,0 -3.7,0M486.20,83.30m-1.85,0a1.85,1.85 0 1,0 3.7,0a1.85,1.85 0 1,0 -3.7,0M502.20,106.70m-1.85,0a1.85,1.85 0 1,0 3.7,0a1.85,1.85 0 1,0 -3.7,0M525.30,117.50m-1.85,0a1.85,1.85 0 1,0 3.7,0a1.85,1.85 0 1,0 -3.7,0M563.20,125.10m-1.85,0a1.85,1.85 0 1,0 3.7,0a1.85,1.85 0 1,0 -3.7,0M589.00,150.80m-1.85,0a1.85,1.85 0 1,0 3.7,0a1.85,1.85 0 1,0 -3.7,0M623.00,164.20m-1.85,0a1.85,1.85 0 1,0 3.7,0a1.85,1.85 0 1,0 -3.7,0M678.40,194.80m-1.85,0a1.85,1.85 0 1,0 3.7,0a1.85,1.85 0 1,0 -3.7,0" fill="#ff7f0e" opacity="1.0"/>
</g>
<rect x="401.7" y="9.3" width="282.59999999999997" height="210.6" fill="none" stroke="#000" stroke-width="0.75"/>
<line x1="398.7" y1="9.30" x2="401.7" y2="9.30" stroke="#000" stroke-width="0.75"/>
<text x="396.00" y="13.15" font-size="9.7" text-anchor="end" textLength="33.0" lengthAdjust="spacingAndGlyphs">−0.030</text>
<line x1="398.7" y1="44.40" x2="401.7" y2="44.40" stroke="#000" stroke-width="0.75"/>
<text x="396.00" y="48.25" font-size="9.7" text-anchor="end" textLength="33.0" lengthAdjust="spacingAndGlyphs">−0.032</text>
<line x1="398.7" y1="79.50" x2="401.7" y2="79.50" stroke="#000" stroke-width="0.75"/>
<text x="396.00" y="83.35" font-size="9.7" text-anchor="end" textLength="33.0" lengthAdjust="spacingAndGlyphs">−0.034</text>
<line x1="398.7" y1="114.60" x2="401.7" y2="114.60" stroke="#000" stroke-width="0.75"/>
<text x="396.00" y="118.45" font-size="9.7" text-anchor="end" textLength="33.0" lengthAdjust="spacingAndGlyphs">−0.036</text>
<line x1="398.7" y1="149.70" x2="401.7" y2="149.70" stroke="#000" stroke-width="0.75"/>
<text x="396.00" y="153.55" font-size="9.7" text-anchor="end" textLength="33.0" lengthAdjust="spacingAndGlyphs">−0.038</text>
<line x1="398.7" y1="184.80" x2="401.7" y2="184.80" stroke="#000" stroke-width="0.75"/>
<text x="396.00" y="188.65" font-size="9.7" text-anchor="end" textLength="33.0" lengthAdjust="spacingAndGlyphs">−0.040</text>
<line x1="398.7" y1="219.90" x2="401.7" y2="219.90" stroke="#000" stroke-width="0.75"/>
<text x="396.00" y="223.75" font-size="9.7" text-anchor="end" textLength="33.0" lengthAdjust="spacingAndGlyphs">−0.042</text>
<line x1="401.70" y1="219.9" x2="401.70" y2="222.9" stroke="#000" stroke-width="0.75"/>
<text x="401.70" y="232.00" font-size="9.7" text-anchor="middle">0</text>
<line x1="434.62" y1="219.9" x2="434.62" y2="222.9" stroke="#000" stroke-width="0.75"/>
<text x="434.62" y="232.00" font-size="9.7" text-anchor="middle">2</text>
<line x1="467.54" y1="219.9" x2="467.54" y2="222.9" stroke="#000" stroke-width="0.75"/>
<text x="467.54" y="232.00" font-size="9.7" text-anchor="middle">4</text>
<line x1="500.46" y1="219.9" x2="500.46" y2="222.9" stroke="#000" stroke-width="0.75"/>
<text x="500.46" y="232.00" font-size="9.7" text-anchor="middle">6</text>
<line x1="533.38" y1="219.9" x2="533.38" y2="222.9" stroke="#000" stroke-width="0.75"/>
<text x="533.38" y="232.00" font-size="9.7" text-anchor="middle">8</text>
<line x1="566.30" y1="219.9" x2="566.30" y2="222.9" stroke="#000" stroke-width="0.75"/>
<text x="566.30" y="232.00" font-size="9.7" text-anchor="middle" textLength="11.3" lengthAdjust="spacingAndGlyphs">10</text>
<line x1="599.22" y1="219.9" x2="599.22" y2="222.9" stroke="#000" stroke-width="0.75"/>
<text x="599.22" y="232.00" font-size="9.7" text-anchor="middle" textLength="11.3" lengthAdjust="spacingAndGlyphs">12</text>
<line x1="632.14" y1="219.9" x2="632.14" y2="222.9" stroke="#000" stroke-width="0.75"/>
<text x="632.14" y="232.00" font-size="9.7" text-anchor="middle" textLength="11.3" lengthAdjust="spacingAndGlyphs">14</text>
<line x1="665.06" y1="219.9" x2="665.06" y2="222.9" stroke="#000" stroke-width="0.75"/>
<text x="665.06" y="232.00" font-size="9.7" text-anchor="middle" textLength="11.3" lengthAdjust="spacingAndGlyphs">16</text>
<text x="543.20" y="242.70" font-size="10.2" text-anchor="middle" font-style="italic">σ</text>
<g transform="translate(357.9,135.2) rotate(-90) scale(1.04)"><text x="0" y="0" font-size="10.3" textLength="39.2" lengthAdjust="spacingAndGlyphs">1/<tspan font-style="italic">σ</tspan> − 1/<tspan font-style="italic">u</tspan></text></g>
<rect x="406.3" y="148.4" width="116.2" height="66.8" rx="2" fill="#fff" fill-opacity="0.8" stroke="#d4d4d4" stroke-width="0.8"/>
<line x1="409.5" y1="155.2" x2="427.8" y2="155.2" stroke="#2ca02c" stroke-width="1.1" opacity="0.5"/>
<line x1="409.5" y1="168.2" x2="427.8" y2="168.2" stroke="#d62728" stroke-width="1.1" opacity="0.5"/>
<rect x="409.9" y="177.7" width="17.9" height="6.4" fill="#e9c2ea"/>
<rect x="409.9" y="190.9" width="17.9" height="6.2" fill="#b3f3ec"/>
<path d="M418.90,202.40V211.60" stroke="#ff7f0e" stroke-width="1.0" opacity="0.5" fill="none"/><path d="M417.20,202.40H420.60M417.20,211.60H420.60" stroke="#ff7f0e" stroke-width="1.0" opacity="0.7" fill="none"/><path d="M418.90,207.00m-1.85,0a1.85,1.85 0 1,0 3.7,0a1.85,1.85 0 1,0 -3.7,0" fill="#ff7f0e" opacity="1.0"/>
<text x="435.00" y="158.50" font-size="9.7" textLength="27.6" lengthAdjust="spacingAndGlyphs">1 loop</text>
<text x="435.00" y="171.50" font-size="9.7" textLength="27.6" lengthAdjust="spacingAndGlyphs">2 loop</text>
<text x="435.00" y="184.50" font-size="9.7" textLength="84.8" lengthAdjust="spacingAndGlyphs">Continuum. Global</text>
<text x="435.00" y="197.50" font-size="9.7" textLength="84.8" lengthAdjust="spacingAndGlyphs">Continuum. u-by-u</text>
<text x="435.00" y="210.50" font-size="9.7" textLength="71.2" lengthAdjust="spacingAndGlyphs">Data for fixed u</text>
<text x="52.60" y="272.20" font-size="13.0" textLength="17.6" lengthAdjust="spacingAndGlyphs" font-weight="bold">(a)</text>
<text x="75.60" y="272.20" font-size="13.0" textLength="25.0" lengthAdjust="spacingAndGlyphs">Raw</text>
<text x="105.60" y="272.20" font-size="13.0" textLength="24.6" lengthAdjust="spacingAndGlyphs">data</text>
<text x="136.80" y="272.20" font-size="13.0" textLength="14.8" lengthAdjust="spacingAndGlyphs">for</text>
<text x="157.00" y="272.20" font-size="14.5" font-family='"Liberation Serif", serif'>1</text>
<path d="M165.0,275.7L171.2,261.7" stroke="#000" stroke-width="0.8"/>
<text x="171.70" y="272.20" font-size="14.5" font-family='"Liberation Serif", serif' font-style="italic">σ</text>
<path d="M184.7,268.6H193.1" stroke="#000" stroke-width="0.8"/>
<text x="197.20" y="272.20" font-size="14.5" font-family='"Liberation Serif", serif'>1</text>
<path d="M205.0,275.7L209.6,261.7" stroke="#000" stroke-width="0.8"/>
<path d="M210.6,264.6 q1.4,-2.5 3.3,-1.7 q0.1,3.2 -0.9,5.9 q-0.8,3.2 1.9,3.3 q3.7,-0.5 5.7,-9.6 M220.9,262.6 l-1.7,8.7 q-0.1,1.2 1.1,0.9" fill="none" stroke="#000" stroke-width="1.0"/>
<text x="221.70" y="272.20" font-size="15" font-family='"Liberation Serif", serif'>(</text>
<text x="227.90" y="272.20" font-size="14.5" font-family='"Liberation Serif", serif' font-style="italic">σ</text>
<text x="236.00" y="272.20" font-size="14.5" font-family='"Liberation Serif", serif'>,</text>
<text x="242.60" y="272.20" font-size="14.5" textLength="9.4" lengthAdjust="spacingAndGlyphs" font-family='"Liberation Serif", serif' font-style="italic">L</text>
<path d="M245.5,260.2 q1.0,-1.3 2.2,-0.5 q1.2,0.8 2.3,-0.5" fill="none" stroke="#000" stroke-width="0.7"/>
<text x="252.10" y="272.20" font-size="15" font-family='"Liberation Serif", serif'>)</text>
<text x="262.00" y="272.20" font-size="13.0" textLength="11.6" lengthAdjust="spacingAndGlyphs">vs</text>
<text x="278.50" y="272.20" font-size="14.5" font-family='"Liberation Serif", serif' font-style="italic">σ</text>
<text x="287.20" y="272.20" font-size="14.5" font-family='"Liberation Serif", serif'>.</text>
<text x="372.70" y="272.20" font-size="13.0" textLength="18.6" lengthAdjust="spacingAndGlyphs" font-weight="bold">(b)</text>
<text x="396.00" y="272.20" font-size="13.0" textLength="64.0" lengthAdjust="spacingAndGlyphs">Continuum</text>
<text x="466.40" y="272.20" font-size="13.0" textLength="77.6" lengthAdjust="spacingAndGlyphs">extrapolation</text>
<text x="549.30" y="272.20" font-size="13.0" textLength="10.8" lengthAdjust="spacingAndGlyphs">of</text>
<text x="565.60" y="272.20" font-size="14.5" font-family='"Liberation Serif", serif'>1</text>
<path d="M573.3,275.7L579.1,261.1" stroke="#000" stroke-width="0.8"/>
<text x="580.10" y="272.20" font-size="14.5" font-family='"Liberation Serif", serif' font-style="italic">σ</text>
<path d="M592.8,268.3H601.6" stroke="#000" stroke-width="0.8"/>
<text x="605.80" y="272.20" font-size="14.5" font-family='"Liberation Serif", serif'>1</text>
<path d="M613.8,275.5L619.8,261.3" stroke="#000" stroke-width="0.8"/>
<text x="621.00" y="272.20" font-size="14.5" font-family='"Liberation Serif", serif' font-style="italic">u</text>
<text x="633.00" y="272.20" font-size="13.0" textLength="12.6" lengthAdjust="spacingAndGlyphs">vs</text>
<text x="650.20" y="272.20" font-size="14.5" font-family='"Liberation Serif", serif' font-style="italic">σ</text>
<text x="658.30" y="272.20" font-size="14.5" font-family='"Liberation Serif", serif'>.</text>
</svg>
</body></html>
